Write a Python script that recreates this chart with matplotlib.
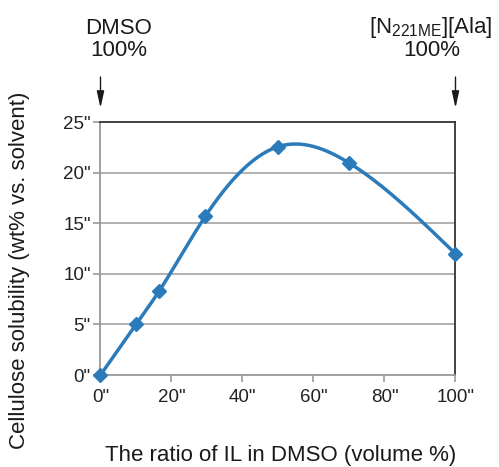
import numpy as np
import matplotlib
matplotlib.use("Agg")
import matplotlib.pyplot as plt

plt.rcParams['font.family'] = ['Liberation Sans', 'DejaVu Sans']
plt.rcParams['mathtext.fontset'] = 'custom'
plt.rcParams['mathtext.rm'] = 'Liberation Sans'

# data
ratio = [0, 10, 16.5, 29.5, 50, 70, 100]
solubility = [0, 5.0, 8.3, 15.7, 22.6, 21.0, 12.0]
xticks = [0, 20, 40, 60, 80, 100]
yticks = [0, 5, 10, 15, 20, 25]
xticklabels = ['0"', '20"', '40"', '60"', '80"', '100"']
yticklabels = ['0"', '5"', '10"', '15"', '20"', '25"']


def natural_spline(x, y, n=400):
    x = np.asarray(x, float); y = np.asarray(y, float)
    k = len(x); h = np.diff(x)
    A = np.zeros((k, k)); b = np.zeros(k)
    A[0, 0] = 1; A[-1, -1] = 1
    for i in range(1, k - 1):
        A[i, i - 1] = h[i - 1]
        A[i, i] = 2 * (h[i - 1] + h[i])
        A[i, i + 1] = h[i]
        b[i] = 3 * ((y[i + 1] - y[i]) / h[i] - (y[i] - y[i - 1]) / h[i - 1])
    c = np.linalg.solve(A, b)
    xs = np.linspace(x[0], x[-1], n)
    ys = np.empty_like(xs)
    for j, xv in enumerate(xs):
        i = min(np.searchsorted(x, xv, side='right') - 1, k - 2)
        dx = xv - x[i]
        bb = (y[i + 1] - y[i]) / h[i] - h[i] * (2 * c[i] + c[i + 1]) / 3
        d = (c[i + 1] - c[i]) / (3 * h[i])
        ys[j] = y[i] + bb * dx + c[i] * dx ** 2 + d * dx ** 3
    return xs, ys


fig = plt.figure(figsize=(4.99, 4.67), dpi=100)
ax = fig.add_axes([0.2014, 0.197, 0.7114, 0.5407])

blue = '#2b7bba'
xs, ys = natural_spline(ratio, solubility)
ax.plot(xs, ys, color=blue, lw=2.5, zorder=3, solid_capstyle='round')
ax.plot(ratio, solubility, linestyle='none', marker='D', markersize=7,
        color=blue, markeredgecolor=blue, zorder=4, clip_on=False)

ax.set_xlim(0, 100)
ax.set_ylim(0, 25)
ax.set_xticks(xticks)
ax.set_xticklabels(xticklabels)
ax.set_yticks(yticks)
ax.set_yticklabels(yticklabels)
ax.tick_params(axis='both', labelsize=13.5, colors='#999999', labelcolor='#222222',
               length=5, width=1.2)
ax.tick_params(axis='x', pad=5)
ax.tick_params(axis='y', pad=2)

for yv in yticks[1:-1]:
    ax.axhline(yv, color='#aaaaaa', lw=1.3, zorder=1)

ax.spines['left'].set_color('#999999')
ax.spines['bottom'].set_color('#999999')
ax.spines['top'].set_color('#333333')
ax.spines['right'].set_color('#333333')
for s in ax.spines.values():
    s.set_linewidth(1.3)

fig.text(20 / 499, 1 - 270 / 467, 'Cellulose solubility (wt% vs. solvent)',
         rotation=90, ha='center', va='center', fontsize=16, color='#1a1a1a')
fig.text(281 / 499, 1 - 456 / 467, 'The ratio of IL in DMSO (volume %)',
         ha='center', va='center', fontsize=16, color='#1a1a1a')

fig.text(119 / 499, 1 - 28 / 467, 'DMSO', ha='center', va='center', fontsize=16, color='#1a1a1a')
fig.text(119 / 499, 1 - 51 / 467, '100%', ha='center', va='center', fontsize=16, color='#1a1a1a')
fig.text(431 / 499, 1 - 27 / 467, r'[N$_{\mathregular{221ME}}$][Ala]', ha='center', va='center',
         fontsize=16, color='#1a1a1a')
fig.text(432 / 499, 1 - 51 / 467, '100%', ha='center', va='center', fontsize=16, color='#1a1a1a')

for xa in (0, 100):
    ax.annotate('', xy=(xa, 25.0 + 14.5 / 10.1), xycoords='data',
                xytext=(xa, 25.0 + 45.5 / 10.1), textcoords='data',
                arrowprops=dict(arrowstyle='-|>,head_length=1.0,head_width=0.22',
                                color='#1a1a1a', lw=1.0, shrinkA=0, shrinkB=0),
                annotation_clip=False)

fig.savefig('out.png', dpi=100)
